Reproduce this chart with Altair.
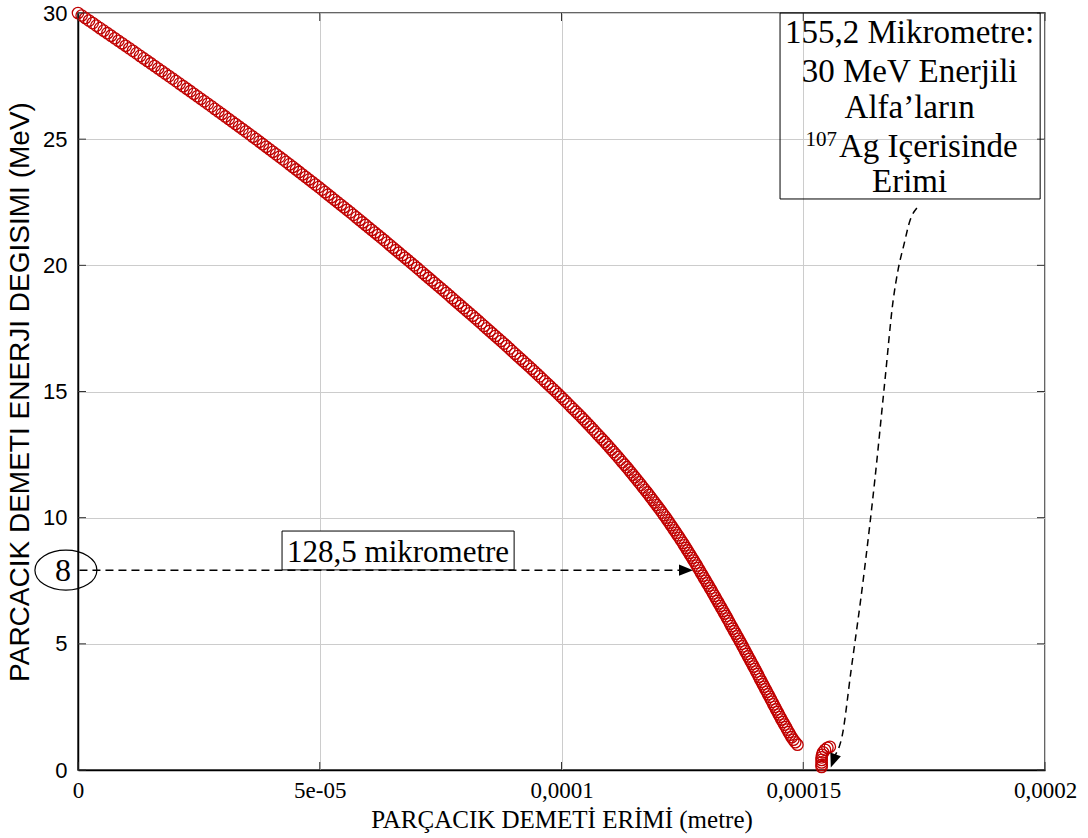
import altair as alt
import pandas as pd

# ---------------- data ----------------
energy_mev = [
    30.0, 29.9, 29.8, 29.7, 29.6, 29.5, 29.4, 29.3, 29.2, 29.1,
    29.0, 28.9, 28.8, 28.7, 28.6, 28.5, 28.4, 28.3, 28.2, 28.1,
    28.0, 27.9, 27.8, 27.7, 27.6, 27.5, 27.4, 27.3, 27.2, 27.1,
    27.0, 26.9, 26.8, 26.7, 26.6, 26.5, 26.4, 26.3, 26.2, 26.1,
    26.0, 25.9, 25.8, 25.7, 25.6, 25.5, 25.4, 25.3, 25.2, 25.1,
    25.0, 24.9, 24.8, 24.7, 24.6, 24.5, 24.4, 24.3, 24.2, 24.1,
    24.0, 23.9, 23.8, 23.7, 23.6, 23.5, 23.4, 23.3, 23.2, 23.1,
    23.0, 22.9, 22.8, 22.7, 22.6, 22.5, 22.4, 22.3, 22.2, 22.1,
    22.0, 21.9, 21.8, 21.7, 21.6, 21.5, 21.4, 21.3, 21.2, 21.1,
    21.0, 20.9, 20.8, 20.7, 20.6, 20.5, 20.4, 20.3, 20.2, 20.1,
    20.0, 19.9, 19.8, 19.7, 19.6, 19.5, 19.4, 19.3, 19.2, 19.1,
    19.0, 18.9, 18.8, 18.7, 18.6, 18.5, 18.4, 18.3, 18.2, 18.1,
    18.0, 17.9, 17.8, 17.7, 17.6, 17.5, 17.4, 17.3, 17.2, 17.1,
    17.0, 16.9, 16.8, 16.7, 16.6, 16.5, 16.4, 16.3, 16.2, 16.1,
    16.0, 15.9, 15.8, 15.7, 15.6, 15.5, 15.4, 15.3, 15.2, 15.1,
    15.0, 14.9, 14.8, 14.7, 14.6, 14.5, 14.4, 14.3, 14.2, 14.1,
    14.0, 13.9, 13.8, 13.7, 13.6, 13.5, 13.4, 13.3, 13.2, 13.1,
    13.0, 12.9, 12.8, 12.7, 12.6, 12.5, 12.4, 12.3, 12.2, 12.1,
    12.0, 11.9, 11.8, 11.7, 11.6, 11.5, 11.4, 11.3, 11.2, 11.1,
    11.0, 10.9, 10.8, 10.7, 10.6, 10.5, 10.4, 10.3, 10.2, 10.1,
    10.0, 9.9, 9.8, 9.7, 9.6, 9.5, 9.4, 9.3, 9.2, 9.1,
    9.0, 8.9, 8.8, 8.7, 8.6, 8.5, 8.4, 8.3, 8.2, 8.1,
    8.0, 7.9, 7.8, 7.7, 7.6, 7.5, 7.4, 7.3, 7.2, 7.1,
    7.0, 6.9, 6.8, 6.7, 6.6, 6.5, 6.4, 6.3, 6.2, 6.1,
    6.0, 5.9, 5.8, 5.7, 5.6, 5.5, 5.4, 5.3, 5.2, 5.1,
    5.0, 4.9, 4.8, 4.7, 4.6, 4.5, 4.4, 4.3, 4.2, 4.1,
    4.0, 3.9, 3.8, 3.7, 3.6, 3.5, 3.4, 3.3, 3.2, 3.1,
    3.0, 2.9, 2.8, 2.7, 2.6, 2.5, 2.4, 2.3, 2.2, 2.1,
    2.0, 1.9, 1.8, 1.7, 1.6, 1.5, 1.4, 1.3, 1.2, 1.1,
    1.0,
]

# depth in micrometres (the x axis is labelled in metres)
depth_um = [
    0.00, 0.76, 1.52, 2.28, 3.04, 3.80, 4.56, 5.32, 6.08, 6.84,
    7.60, 8.35, 9.10, 9.85, 10.60, 11.35, 12.10, 12.85, 13.60, 14.35,
    15.10, 15.84, 16.58, 17.32, 18.06, 18.80, 19.54, 20.28, 21.02, 21.76,
    22.50, 23.23, 23.95, 24.68, 25.40, 26.13, 26.85, 27.58, 28.30, 29.03,
    29.75, 30.46, 31.17, 31.88, 32.59, 33.30, 34.01, 34.72, 35.43, 36.14,
    36.85, 37.54, 38.23, 38.92, 39.61, 40.30, 40.99, 41.68, 42.37, 43.06,
    43.75, 44.42, 45.09, 45.76, 46.43, 47.10, 47.77, 48.44, 49.11, 49.78,
    50.45, 51.10, 51.75, 52.40, 53.05, 53.70, 54.35, 55.00, 55.65, 56.30,
    56.95, 57.59, 58.22, 58.86, 59.49, 60.13, 60.76, 61.40, 62.03, 62.67,
    63.30, 63.92, 64.54, 65.16, 65.78, 66.40, 67.02, 67.64, 68.26, 68.88,
    69.50, 70.11, 70.72, 71.33, 71.94, 72.55, 73.16, 73.77, 74.38, 74.99,
    75.60, 76.20, 76.80, 77.40, 78.00, 78.60, 79.20, 79.80, 80.40, 81.00,
    81.60, 82.19, 82.78, 83.37, 83.96, 84.55, 85.14, 85.73, 86.32, 86.91,
    87.50, 88.08, 88.65, 89.23, 89.80, 90.38, 90.95, 91.53, 92.10, 92.68,
    93.25, 93.81, 94.36, 94.92, 95.47, 96.03, 96.58, 97.14, 97.69, 98.25,
    98.80, 99.33, 99.85, 100.38, 100.90, 101.43, 101.95, 102.48, 103.00, 103.53,
    104.05, 104.54, 105.03, 105.52, 106.01, 106.50, 106.99, 107.48, 107.97, 108.46,
    108.95, 109.41, 109.86, 110.32, 110.77, 111.23, 111.68, 112.14, 112.59, 113.05,
    113.50, 113.92, 114.34, 114.76, 115.18, 115.60, 116.02, 116.44, 116.86, 117.28,
    117.70, 118.09, 118.48, 118.87, 119.26, 119.65, 120.04, 120.43, 120.82, 121.21,
    121.60, 121.95, 122.30, 122.65, 123.00, 123.35, 123.70, 124.05, 124.40, 124.75,
    125.10, 125.42, 125.74, 126.06, 126.38, 126.70, 127.02, 127.34, 127.66, 127.98,
    128.30, 128.61, 128.91, 129.22, 129.52, 129.83, 130.13, 130.44, 130.74, 131.05,
    131.35, 131.65, 131.94, 132.24, 132.53, 132.83, 133.12, 133.42, 133.71, 134.01,
    134.30, 134.59, 134.88, 135.17, 135.46, 135.75, 136.04, 136.33, 136.62, 136.91,
    137.20, 137.48, 137.76, 138.04, 138.32, 138.60, 138.88, 139.16, 139.44, 139.72,
    140.00, 140.28, 140.55, 140.83, 141.10, 141.38, 141.65, 141.93, 142.20, 142.48,
    142.75, 143.03, 143.30, 143.58, 143.85, 144.13, 144.40, 144.68, 144.95, 145.23,
    145.50, 145.80, 146.10, 146.40, 146.70, 147.00, 147.30, 147.60, 147.95, 148.35,
    148.80,
]

# small hook of points near the end of the range
tail_depth_um = [155.5, 155.0, 154.5, 154.1, 153.9, 153.8, 153.8, 153.8, 153.8, 153.8]
tail_energy_mev = [0.92, 0.88, 0.80, 0.70, 0.60, 0.50, 0.40, 0.30, 0.20, 0.12]

x_tick_values = [0, 50, 100, 150, 200]
x_tick_labels = ["0", "5e-05", "0,0001", "0,00015", "0,0002"]
y_tick_values = [0, 5, 10, 15, 20, 25, 30]

# annotations (in data units: micrometres, MeV)
range_note_lines = ["155,2 Mikrometre:", "30 MeV Enerjili", "Alfa\u2019lar\u0131n", "Erimi"]
range_note_baselines = [28.81, 27.27, 25.84, 22.91]
range_note_ag = "Ag I\u00e7erisinde"
range_note_iso = "107"
range_box = {"d": [145.2], "d2": [199.0], "E": [30.0], "E2": [22.63]}

depth_note = "128,5 mikrometre"
depth_box = {"d": [42.2], "d2": [90.2], "E": [9.47], "E2": [7.93]}
level_value = "8"
level_energy = 7.92
arrow_tip_depth = 127.2

curve_arrow_depth = [173.5, 172.1, 170.8, 169.6, 168.6, 166.9, 164.8, 162.4, 159.9, 158.0, 156.6]
curve_arrow_energy = [22.27, 21.79, 20.80, 19.81, 18.62, 15.45, 11.49, 7.53, 3.96, 1.31, 0.59]
curve_arrow_tip = (155.7, 0.10)

# ---------------- chart ----------------
W, H = 967, 757
SERIF = "Liberation Serif"
SANS = "Liberation Sans"
RED = "#c00000"
HEAD = "M0,0L-2,-0.8L-2,0.8Z"
ELLIPSE = "M-1,0A1,0.645,0,1,1,1,0A1,0.645,0,1,1,-1,0Z"

xs = alt.Scale(domain=[0, 200], nice=False, zero=False)
ys = alt.Scale(domain=[0, 30], nice=False, zero=False)

label_expr = "[" + ",".join(f"'{t}'" for t in x_tick_labels) + "][round(datum.value / 50)]"

x_axis = alt.Axis(
    values=x_tick_values, labelExpr=label_expr,
    title="PAR\u00c7ACIK DEMET\u0130 ER\u0130M\u0130 (metre)",
    grid=True, gridColor="#cccccc", gridWidth=1,
    ticks=False, tickSize=0,
    domain=True, domainColor="black", domainWidth=1.5,
    labelFont=SERIF, labelFontSize=23, labelColor="black", labelPadding=9,
    labelFlush=False, labelOverlap=False,
    titleFont=SERIF, titleFontSize=25, titleFontWeight="normal", titleColor="black",
    titleY=57, titleBaseline="alphabetic",
)
y_axis = alt.Axis(
    values=y_tick_values,
    title="PARCACIK DEMETI ENERJI DEGISIMI (MeV)",
    grid=True, gridColor="#cccccc", gridWidth=1,
    ticks=False, tickSize=0,
    domain=True, domainColor="black", domainWidth=1.5,
    labelFont=SANS, labelFontSize=22, labelColor="black", labelPadding=11,
    labelFlush=False, labelOverlap=False,
    titleFont=SANS, titleFontSize=28, titleFontWeight="normal", titleColor="black",
    titleX=-50, titleY=H / 2, titleBaseline="alphabetic", titleAngle=270,
)


def X(field="d"):
    return alt.X(f"{field}:Q", scale=xs, axis=x_axis)


def Y(field="E"):
    return alt.Y(f"{field}:Q", scale=ys, axis=y_axis)


curve = pd.DataFrame({"d": depth_um + tail_depth_um, "E": energy_mev + tail_energy_mev})

points = alt.Chart(curve).mark_point(
    shape="circle", filled=False, size=130, color=RED, strokeWidth=1.3, opacity=1
).encode(x=X(), y=Y())

# inward tick marks on all four sides
xt = pd.DataFrame({"d": x_tick_values})
yt = pd.DataFrame({"E": y_tick_values})
tick_style = dict(color="#333333", strokeWidth=1)
tick_bottom = alt.Chart(xt).mark_rule(**tick_style).encode(x=X(), y=alt.value(H), y2=alt.value(H - 8))
tick_top = alt.Chart(xt).mark_rule(**tick_style).encode(x=X(), y=alt.value(0), y2=alt.value(8))
tick_left = alt.Chart(yt).mark_rule(**tick_style).encode(y=Y(), x=alt.value(0), x2=alt.value(8))
tick_right = alt.Chart(yt).mark_rule(**tick_style).encode(y=Y(), x=alt.value(W), x2=alt.value(W - 8))

# depth annotation (128,5 mikrometre)
box1 = alt.Chart(pd.DataFrame(depth_box)).mark_rect(
    fill="white", stroke="black", strokeWidth=1
).encode(x=X(), x2="d2:Q", y=Y(), y2="E2:Q")
box1_text = alt.Chart(pd.DataFrame({"t": [depth_note], "d": [66.2], "E": [8.24]})).mark_text(
    font=SERIF, fontSize=31, align="center", baseline="alphabetic", color="black"
).encode(x=X(), y=Y(), text="t:N")

arrow1 = alt.Chart(pd.DataFrame({"d": [0.3], "d2": [arrow_tip_depth - 2.9], "E": [level_energy]})).mark_rule(
    color="black", strokeWidth=1.5, strokeDash=[8, 5]
).encode(x=X(), x2="d2:Q", y=Y())
arrow1_head = alt.Chart(pd.DataFrame({"d": [arrow_tip_depth], "E": [level_energy]})).mark_point(
    shape=HEAD, size=196, filled=True, color="black", opacity=1, strokeWidth=0
).encode(x=X(), y=Y())

ellipse = alt.Chart(pd.DataFrame({"d": [-2.5], "E": [level_energy]})).mark_point(
    shape=ELLIPSE, size=3844, filled=False, color="black", strokeWidth=1.2, opacity=1
).encode(x=X(), y=Y())
ellipse_text = alt.Chart(pd.DataFrame({"t": [level_value], "d": [-3.1], "E": [7.49]})).mark_text(
    font=SERIF, fontSize=32, align="center", baseline="alphabetic", color="black"
).encode(x=X(), y=Y(), text="t:N")

# range annotation box
box2 = alt.Chart(pd.DataFrame(range_box)).mark_rect(
    fillOpacity=0, stroke="black", strokeWidth=1
).encode(x=X(), x2="d2:Q", y=Y(), y2="E2:Q")
box2_text = alt.Chart(pd.DataFrame({"t": range_note_lines, "d": [172.0] * 4, "E": range_note_baselines})).mark_text(
    font=SERIF, fontSize=33, align="center", baseline="alphabetic", color="black"
).encode(x=X(), y=Y(), text="t:N")
box2_ag = alt.Chart(pd.DataFrame({"t": [range_note_ag], "d": [157.4], "E": [24.29]})).mark_text(
    font=SERIF, fontSize=33, align="left", baseline="alphabetic", color="black"
).encode(x=X(), y=Y(), text="t:N")
box2_iso = alt.Chart(pd.DataFrame({"t": [range_note_iso], "d": [157.0], "E": [24.72]})).mark_text(
    font=SERIF, fontSize=21, align="right", baseline="alphabetic", color="black"
).encode(x=X(), y=Y(), text="t:N")

arrow2 = alt.Chart(pd.DataFrame({
    "d": curve_arrow_depth, "E": curve_arrow_energy, "i": list(range(len(curve_arrow_depth)))
})).mark_line(
    color="black", strokeWidth=1.5, strokeDash=[7, 5], interpolate="monotone"
).encode(x=X(), y=Y(), order="i:Q")
arrow2_head = alt.Chart(pd.DataFrame({"d": [curve_arrow_tip[0]], "E": [curve_arrow_tip[1]]})).mark_point(
    shape=HEAD, size=196, filled=True, color="black", opacity=1, strokeWidth=0, angle=110
).encode(x=X(), y=Y())

chart = alt.layer(
    points, tick_bottom, tick_top, tick_left, tick_right,
    box1, arrow1, arrow1_head, box1_text, ellipse, ellipse_text,
    box2, box2_text, box2_ag, box2_iso, arrow2, arrow2_head,
).properties(
    width=W, height=H,
    padding={"left": 78, "top": 13, "right": 43, "bottom": 68},
    autosize=alt.AutoSizeParams(type="none"),
    background="white",
).configure_view(stroke="#333333", strokeWidth=1.5)

chart.save("out.html", embed_options={"renderer": "svg", "actions": False})
